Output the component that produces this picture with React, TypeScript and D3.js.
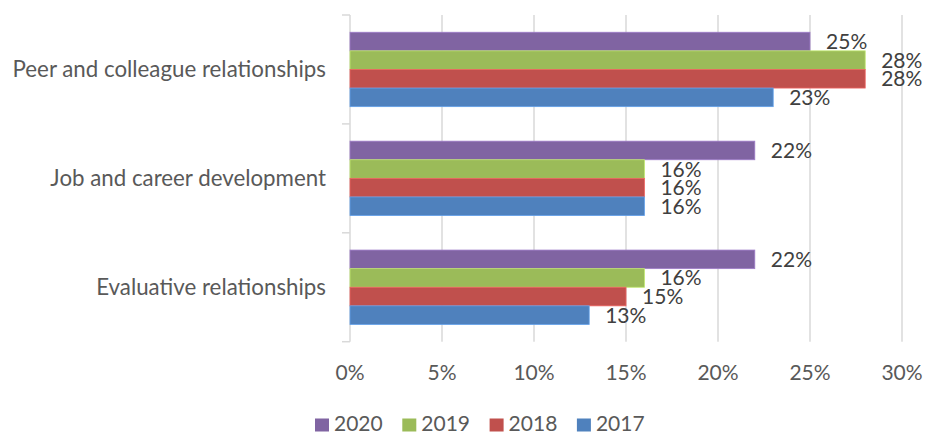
import React from "react";
import * as d3 from "d3";

const categories = ["Peer and colleague relationships", "Job and career development", "Evaluative relationships"];
const seriesNames = ["2020", "2019", "2018", "2017"];
const seriesColors = ["#8064A2", "#9BBB59", "#C0504D", "#4F81BD"];
const values2020 = [25, 22, 22];
const values2019 = [28, 16, 16];
const values2018 = [28, 16, 15];
const values2017 = [23, 16, 13];
const xTicks = [0, 5, 10, 15, 20, 25, 30];

const allSeries = [values2020, values2019, values2018, values2017];

const W = 929;
const H = 434;
const FONT = "Lato, 'Open Sans', sans-serif";

export default function App() {
  const x = d3.scaleLinear().domain([0, 30]).range([350, 902]);
  const y = d3.scaleBand<string>().domain(categories).range([15, 341.7]).paddingInner(0).paddingOuter(0);
  const bw = y.bandwidth();
  const pad = (bw - 74.4) / 2;
  const inner = d3.scaleBand<string>().domain(seriesNames).range([pad, bw - pad]).padding(0);

  return (
    <svg width={W} height={H} style={{ position: "absolute", left: 0, top: 0, background: "#fff" }}>
      <rect width={W} height={H} fill="#fff" />
      {/* gridlines */}
      {xTicks.slice(1).map((t) => (
        <line key={t} x1={x(t)} x2={x(t)} y1={15} y2={341.7} stroke="#D9D9D9" strokeWidth={1.5} />
      ))}
      {/* axis line */}
      <line x1={350} x2={350} y1={15} y2={341.7} stroke="#D9D9D9" strokeWidth={1.5} />
      {[0, 1, 2, 3].map((i) => {
        const yy = 15 + i * bw;
        return <line key={i} x1={342} x2={350} y1={yy} y2={yy} stroke="#D9D9D9" strokeWidth={1.5} />;
      })}
      {/* bars */}
      {categories.map((c, ci) => (
        <g key={c} transform={`translate(0,${y(c)})`}>
          {seriesNames.map((s, si) => {
            const v = allSeries[si][ci];
            const yy = inner(s)!;
            const h = inner.bandwidth();
            return (
              <g key={s}>
                <rect
                  x={x(0)}
                  y={yy}
                  width={x(v) - x(0)}
                  height={h}
                  fill={seriesColors[si]}
                  stroke={d3.color(seriesColors[si])!.brighter(0.6).formatHex()}
                  strokeWidth={0.8}
                />
                <text
                  x={x(v) + 16}
                  y={yy + h / 2 + 7.5}
                  fontFamily={FONT}
                  fontSize={21}
                  fill="#404040"
                >
                  {v}%
                </text>
              </g>
            );
          })}
        </g>
      ))}
      {/* category labels */}
      {categories.map((c) => (
        <text
          key={c}
          x={326}
          y={y(c)! + bw / 2 + 7.5}
          textAnchor="end"
          fontFamily={FONT}
          fontSize={22.3}
          fill="#595959"
        >
          {c}
        </text>
      ))}
      {/* x tick labels */}
      {xTicks.map((t) => (
        <text key={t} x={x(t)} y={380} textAnchor="middle" fontFamily={FONT} fontSize={21} fill="#595959">
          {t}%
        </text>
      ))}
      {/* legend */}
      {seriesNames.map((s, i) => {
        const lx = 315 + i * 87.3;
        return (
          <g key={s}>
            <rect x={lx} y={418.5} width={14} height={13} fill={seriesColors[i]} />
            <text x={lx + 19} y={431} fontFamily={FONT} fontSize={21} fill="#595959">
              {s}
            </text>
          </g>
        );
      })}
    </svg>
  );
}
